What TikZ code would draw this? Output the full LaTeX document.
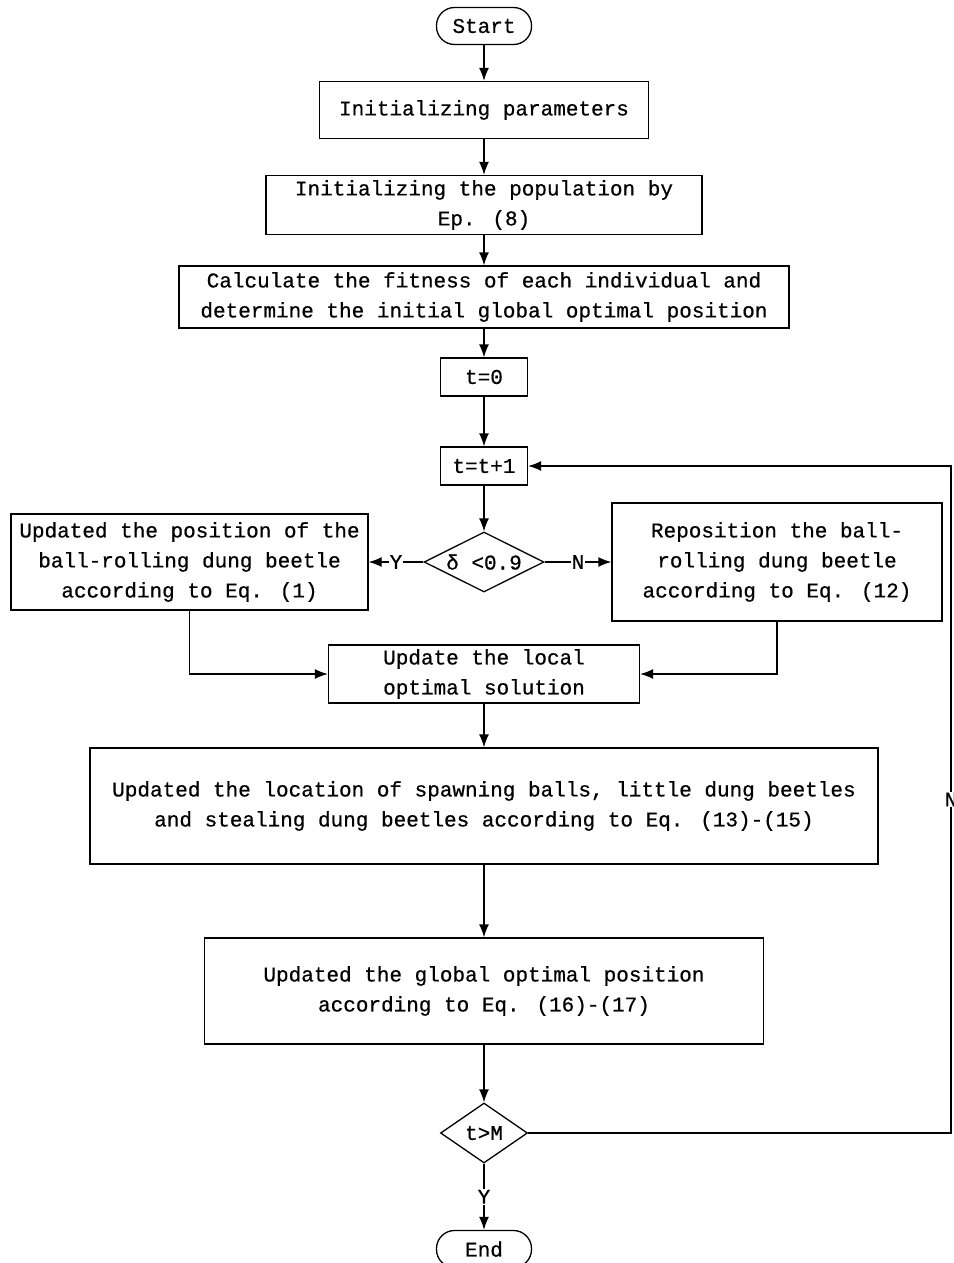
\documentclass[tikz,border=0pt]{standalone}
\usepackage{fontspec}
\setmainfont[FakeBold=0.6]{Liberation Mono}
\usetikzlibrary{shapes.geometric,arrows.meta}
\tikzset{
  box/.style={draw, line width=1.3pt, align=center, inner sep=0pt},
  term/.style={box, rounded corners=18pt},
  cond/.style={draw, line width=1.3pt, diamond, inner sep=0pt},
  arr/.style={line width=1.3pt, -{Latex[length=13pt,width=10pt]}},
  lbl/.style={fill=white, inner sep=1pt},
}
\begin{document}
\begin{tikzpicture}[x=1pt, y=-1pt, font=\fontsize{21}{30}\selectfont]
\useasboundingbox (0,0) rectangle (953,1263);
% main column
\node[term, minimum width=95pt, minimum height=37pt] (start) at (484,26) {Start};
\node[box, minimum width=329pt, minimum height=57pt] (params) at (484,110) {Initializing parameters};
\node[box, minimum width=436pt, minimum height=59pt] (pop) at (484,205) {Initializing the population by\\Ep. (8)};
\node[box, minimum width=610pt, minimum height=62pt] (fit) at (484,297) {Calculate the fitness of each individual and\\determine the initial global optimal position};
\node[box, minimum width=87pt, minimum height=38pt] (tzero) at (484,377) {t=0};
\node[box, minimum width=87pt, minimum height=38pt] (tinc) at (484,466) {t=t+1};
\node[cond, minimum width=120pt, minimum height=60pt, aspect=2] (delta) at (484,562) {δ <0.9};
\node[box, minimum width=357pt, minimum height=96pt] (roll) at (189.5,562) {Updated the position of the\\ball-rolling dung beetle\\according to Eq. (1)};
\node[box, minimum width=330pt, minimum height=118pt] (repos) at (777,562) {Reposition the ball-\\rolling dung beetle\\according to Eq. (12)};
\node[box, minimum width=311pt, minimum height=58pt] (local) at (484,674) {Update the local\\optimal solution};
\node[box, minimum width=788pt, minimum height=116pt] (spawn) at (484,806) {Updated the location of spawning balls, little dung beetles\\and stealing dung beetles according to Eq. (13)-(15)};
\node[box, minimum width=559pt, minimum height=106pt] (global) at (484,991) {Updated the global optimal position\\according to Eq. (16)-(17)};
\node[cond, minimum width=87pt, minimum height=60pt, aspect=1.45] (stop) at (484,1133) {t>M};
\node[term, minimum width=95pt, minimum height=37pt] (end) at (484,1249) {End};
% loop corners
\coordinate (rb) at (951,1133);
\coordinate (rt) at (951,466);
% connectors
\draw[arr] (start) -- (params);
\draw[arr] (params) -- (pop);
\draw[arr] (pop) -- (fit);
\draw[arr] (fit) -- (tzero);
\draw[arr] (tzero) -- (tinc);
\draw[arr] (tinc) -- (delta);
\draw[arr] (delta) -- node[lbl]{Y} (roll);
\draw[arr] (delta) -- node[lbl]{N} (repos);
\draw[arr] (roll.south) |- (local.west);
\draw[arr] (repos.south) |- (local.east);
\draw[arr] (local) -- (spawn);
\draw[arr] (spawn) -- (global);
\draw[arr] (global) -- (stop);
\draw[arr] (stop) -- node[lbl]{Y} (end);
\draw[arr] (stop.east) -- (rb) -- node[lbl]{N} (rt) -- (tinc.east);
\end{tikzpicture}
\end{document}
